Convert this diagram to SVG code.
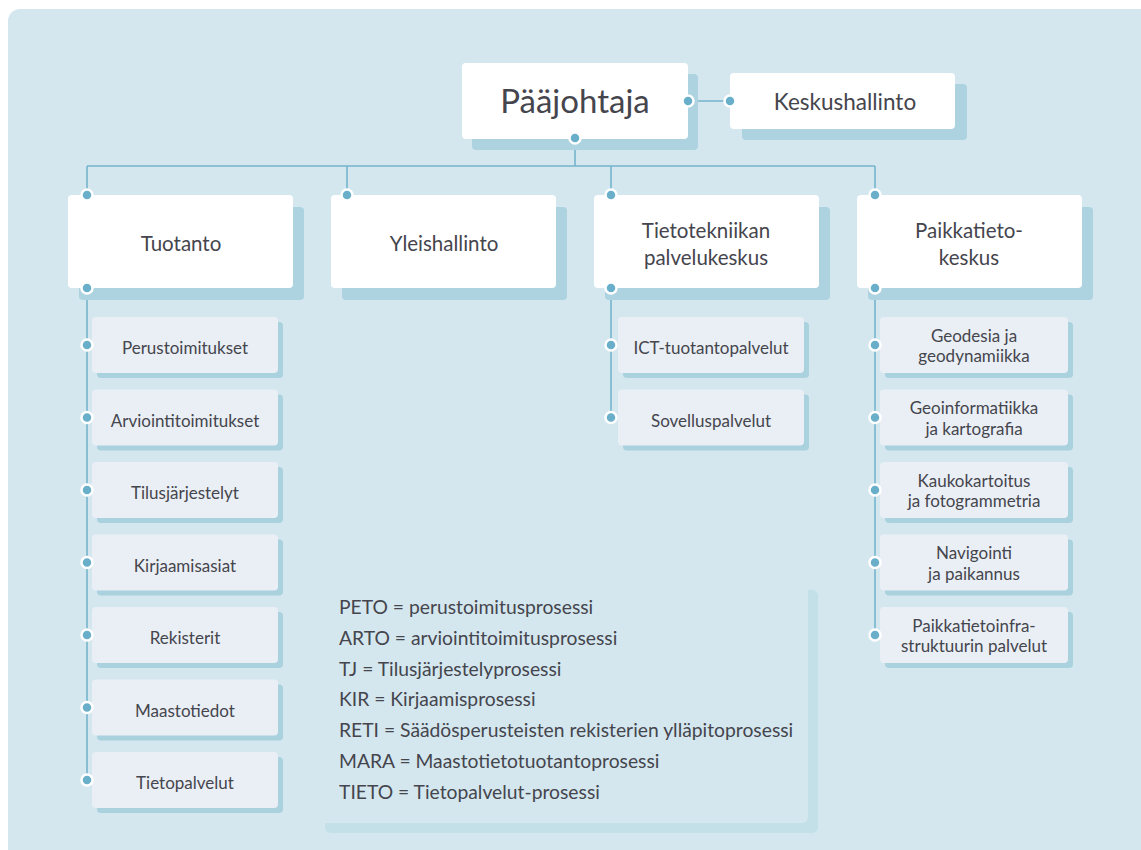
<svg xmlns="http://www.w3.org/2000/svg" width="1141" height="850" viewBox="0 0 1141 850">
<defs>
<style>
text{font-family:Lato,"Open Sans","Liberation Sans",sans-serif;fill:#45454d;text-anchor:middle}
.bg{fill:#d4e7ef}
.sh{fill:#add3e0}
.box{fill:#ffffff}
.sub{fill:#e9eff5}
.subsh{fill:#a9d1de}
.line{stroke:#74b5cd;stroke-width:1.6;fill:none}
.dot{fill:#6aafc9;stroke:#ffffff;stroke-width:2.5}
.t1{font-size:33px}
.t2{font-size:22.5px}
.t3{font-size:20.5px}
.t4{font-size:17px}
.leg{font-size:19.3px;text-anchor:start}
</style>
</defs>
<rect class="bg" x="8" y="9" width="1160" height="870" rx="12"/>

<g id="connectors">
<path class="line" d="M688 101H730M575 138V166M87 166H875M87 166V195M347 166V195M611 166V195M875 166V195M87 288V780M611 288V418M875 288V636"/>
</g>

<g id="paajohtaja">
<rect class="sh" x="472" y="74" width="226" height="76" rx="4"/>
<rect class="box" x="462" y="63" width="226" height="76" rx="4"/>
<text class="t1" x="575" y="113">Pääjohtaja</text>
</g>
<g id="keskushallinto">
<rect class="sh" x="742" y="84" width="225" height="56" rx="4"/>
<rect class="box" x="730" y="73" width="225" height="56" rx="4"/>
<text class="t2" x="845" y="110">Keskushallinto</text>
</g>

<g id="tuotanto">
<rect class="sh" x="79" y="207" width="225" height="93" rx="4"/>
<rect class="box" x="68" y="195" width="225" height="93" rx="4"/>
<text class="t3" x="181" y="251">Tuotanto</text>
</g>
<g id="yleishallinto">
<rect class="sh" x="342" y="207" width="225" height="93" rx="4"/>
<rect class="box" x="331" y="195" width="225" height="93" rx="4"/>
<text class="t3" x="444" y="251">Yleishallinto</text>
</g>
<g id="tietotekniikka">
<rect class="sh" x="605" y="207" width="225" height="93" rx="4"/>
<rect class="box" x="594" y="195" width="225" height="93" rx="4"/>
<text class="t3" x="706" y="238">Tietotekniikan</text>
<text class="t3" x="706" y="265">palvelukeskus</text>
</g>
<g id="paikkatieto">
<rect class="sh" x="868" y="207" width="225" height="93" rx="4"/>
<rect class="box" x="857" y="195" width="225" height="93" rx="4"/>
<text class="t3" x="969" y="238">Paikkatieto-</text>
<text class="t3" x="969" y="265">keskus</text>
</g>

<g id="perustoimitukset">
<rect class="subsh" x="97" y="322" width="186" height="56" rx="4"/>
<rect class="sub" x="92" y="317" width="186" height="56" rx="4"/>
<text class="t4" x="185" y="354">Perustoimitukset</text>
</g>
<g id="arviointitoimitukset">
<rect class="subsh" x="97" y="394.5" width="186" height="56" rx="4"/>
<rect class="sub" x="92" y="389.5" width="186" height="56" rx="4"/>
<text class="t4" x="185" y="426.5">Arviointitoimitukset</text>
</g>
<g id="tilusjarjestelyt">
<rect class="subsh" x="97" y="467" width="186" height="56" rx="4"/>
<rect class="sub" x="92" y="462" width="186" height="56" rx="4"/>
<text class="t4" x="185" y="499">Tilusjärjestelyt</text>
</g>
<g id="kirjaamisasiat">
<rect class="subsh" x="97" y="539.5" width="186" height="56" rx="4"/>
<rect class="sub" x="92" y="534.5" width="186" height="56" rx="4"/>
<text class="t4" x="185" y="571.5">Kirjaamisasiat</text>
</g>
<g id="rekisterit">
<rect class="subsh" x="97" y="612" width="186" height="56" rx="4"/>
<rect class="sub" x="92" y="607" width="186" height="56" rx="4"/>
<text class="t4" x="185" y="644">Rekisterit</text>
</g>
<g id="maastotiedot">
<rect class="subsh" x="97" y="684.5" width="186" height="56" rx="4"/>
<rect class="sub" x="92" y="679.5" width="186" height="56" rx="4"/>
<text class="t4" x="185" y="716.5">Maastotiedot</text>
</g>
<g id="tietopalvelut">
<rect class="subsh" x="97" y="757" width="186" height="56" rx="4"/>
<rect class="sub" x="92" y="752" width="186" height="56" rx="4"/>
<text class="t4" x="185" y="789">Tietopalvelut</text>
</g>

<g id="ict">
<rect class="subsh" x="623" y="322" width="186" height="56" rx="4"/>
<rect class="sub" x="618" y="317" width="186" height="56" rx="4"/>
<text class="t4" x="711" y="354">ICT-tuotantopalvelut</text>
</g>
<g id="sovelluspalvelut">
<rect class="subsh" x="623" y="394.5" width="186" height="56" rx="4"/>
<rect class="sub" x="618" y="389.5" width="186" height="56" rx="4"/>
<text class="t4" x="711" y="426.5">Sovelluspalvelut</text>
</g>

<g id="geodesia">
<rect class="subsh" x="885" y="322" width="188" height="56" rx="4"/>
<rect class="sub" x="880" y="317" width="188" height="56" rx="4"/>
<text class="t4" x="974" y="341.5">Geodesia ja</text>
<text class="t4" x="974" y="362">geodynamiikka</text>
</g>
<g id="geoinformatiikka">
<rect class="subsh" x="885" y="394.5" width="188" height="56" rx="4"/>
<rect class="sub" x="880" y="389.5" width="188" height="56" rx="4"/>
<text class="t4" x="974" y="414">Geoinformatiikka</text>
<text class="t4" x="974" y="434.5">ja kartografia</text>
</g>
<g id="kaukokartoitus">
<rect class="subsh" x="885" y="467" width="188" height="56" rx="4"/>
<rect class="sub" x="880" y="462" width="188" height="56" rx="4"/>
<text class="t4" x="974" y="486.5">Kaukokartoitus</text>
<text class="t4" x="974" y="507">ja fotogrammetria</text>
</g>
<g id="navigointi">
<rect class="subsh" x="885" y="539.5" width="188" height="56" rx="4"/>
<rect class="sub" x="880" y="534.5" width="188" height="56" rx="4"/>
<text class="t4" x="974" y="559">Navigointi</text>
<text class="t4" x="974" y="579.5">ja paikannus</text>
</g>
<g id="paikkatietoinfra">
<rect class="subsh" x="885" y="612" width="188" height="56" rx="4"/>
<rect class="sub" x="880" y="607" width="188" height="56" rx="4"/>
<text class="t4" x="974" y="631.5">Paikkatietoinfra-</text>
<text class="t4" x="974" y="652">struktuurin palvelut</text>
</g>

<g id="dots">
<circle class="dot" cx="688" cy="101" r="5.5"/>
<circle class="dot" cx="730" cy="101" r="5.5"/>
<circle class="dot" cx="575" cy="138" r="5.5"/>
<circle class="dot" cx="87" cy="195" r="5.5"/>
<circle class="dot" cx="347" cy="195" r="5.5"/>
<circle class="dot" cx="611" cy="195" r="5.5"/>
<circle class="dot" cx="875" cy="195" r="5.5"/>
<circle class="dot" cx="87" cy="288" r="5.5"/>
<circle class="dot" cx="611" cy="288" r="5.5"/>
<circle class="dot" cx="875" cy="288" r="5.5"/>
<circle class="dot" cx="87" cy="345" r="5.5"/>
<circle class="dot" cx="87" cy="417.5" r="5.5"/>
<circle class="dot" cx="87" cy="490" r="5.5"/>
<circle class="dot" cx="87" cy="562.5" r="5.5"/>
<circle class="dot" cx="87" cy="635" r="5.5"/>
<circle class="dot" cx="87" cy="707.5" r="5.5"/>
<circle class="dot" cx="87" cy="780" r="5.5"/>
<circle class="dot" cx="611" cy="345" r="5.5"/>
<circle class="dot" cx="611" cy="417.5" r="5.5"/>
<circle class="dot" cx="875" cy="345" r="5.5"/>
<circle class="dot" cx="875" cy="417.5" r="5.5"/>
<circle class="dot" cx="875" cy="490" r="5.5"/>
<circle class="dot" cx="875" cy="562.5" r="5.5"/>
<circle class="dot" cx="875" cy="635" r="5.5"/>
</g>

<g id="legend">
<rect x="325" y="590" width="493" height="243" rx="6" fill="#c3dfe8"/>
<rect class="bg" x="315" y="580" width="493" height="243" rx="6"/>
<text class="leg" x="339" y="614">PETO = perustoimitusprosessi</text>
<text class="leg" x="339" y="645">ARTO = arviointitoimitusprosessi</text>
<text class="leg" x="339" y="676">TJ = Tilusjärjestelyprosessi</text>
<text class="leg" x="339" y="706">KIR = Kirjaamisprosessi</text>
<text class="leg" x="339" y="737">RETI = Säädösperusteisten rekisterien ylläpitoprosessi</text>
<text class="leg" x="339" y="768">MARA = Maastotietotuotantoprosessi</text>
<text class="leg" x="339" y="799">TIETO = Tietopalvelut-prosessi</text>
</g>
</svg>
